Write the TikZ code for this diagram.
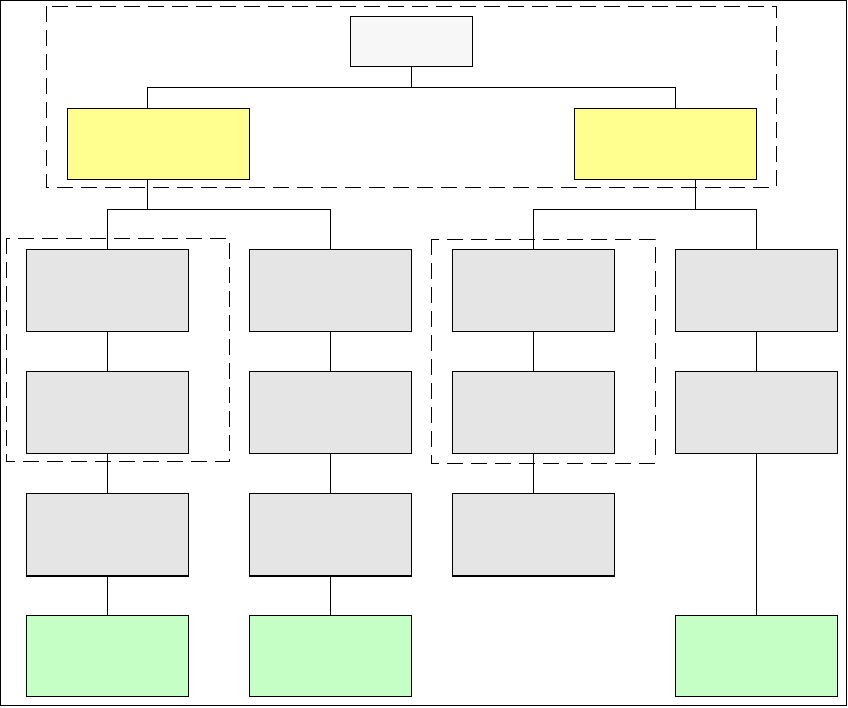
\documentclass[tikz,border=0pt]{standalone}
\begin{document}
\begin{tikzpicture}[x=1pt,y=-1pt,line width=1pt,
  box/.style={draw=black,rectangle,inner sep=0pt,minimum width=162pt,minimum height=82pt},
  greybox/.style={box,fill=boxgrey},
  greenbox/.style={box,fill=boxgreen,minimum height=81pt},
  yellowbox/.style={box,fill=boxyellow,minimum width=182pt,minimum height=71pt},
  topbox/.style={box,fill=topgrey,minimum width=122pt,minimum height=50pt},
  group/.style={draw=black,dash pattern=on 16pt off 8pt},
  conn/.style={draw=black}]
\definecolor{boxgrey}{HTML}{E5E5E5}
\definecolor{boxgreen}{HTML}{C6FFC6}
\definecolor{boxyellow}{HTML}{FFFF90}
\definecolor{topgrey}{HTML}{F7F7F7}
\useasboundingbox (0,0) rectangle (848,707);
\draw (0.5,0.5) rectangle (846.8,705.5);
% groups
\draw[group] (46,6) rectangle (776,187);
\draw[group] (6,238) rectangle (229,461);
\draw[group] (431,239) rectangle (655,463);
% nodes
\node[topbox] (t) at (411,41) {};
\node[yellowbox] (yl) at (158,143.5) {};
\node[yellowbox] (yr) at (665,143.5) {};
\foreach \c/\x in {1/107,2/330,3/533,4/756}{
  \node[greybox] (a\c) at (\x,290) {};
  \node[greybox] (b\c) at (\x,412) {};
}
\foreach \c/\x in {1/107,2/330,3/533}{
  \node[greybox] (c\c) at (\x,534) {};
  \draw[line width=2pt] (c\c.south west) -- (c\c.south east);
}
\node[greenbox] (g1) at (107,655.5) {};
\node[greenbox] (g2) at (330,655.5) {};
\node[greenbox] (g4) at (756,655.5) {};
% junction coordinates
\coordinate (jT) at (411,87);
\coordinate (jTL) at (147,87);
\coordinate (jTR) at (675,87);
\coordinate (jLd) at (147,180);
\coordinate (jL) at (147,209);
\coordinate (jL1) at (107,209);
\coordinate (jL2) at (330,209);
\coordinate (jRd) at (695,180);
\coordinate (jR) at (695,209);
\coordinate (jR1) at (533,209);
\coordinate (jR2) at (756,209);
% connectors
\draw[conn] (t.south) -- (jT);
\draw[conn] (jTL |- yl.north) -- (jTL) -- (jTR) -- (jTR |- yr.north);
\draw[conn] (jLd) -- (jL);
\draw[conn] (a1.north) -- (jL1) -- (jL2) -- (a2.north);
\draw[conn] (jRd) -- (jR);
\draw[conn] (a3.north) -- (jR1) -- (jR2) -- (a4.north);
\foreach \c in {1,2,3,4}{
  \draw[conn] (a\c) -- (b\c);
}
\foreach \c in {1,2,3}{
  \draw[conn] (b\c) -- (c\c);
}
\draw[conn] (c1) -- (g1);
\draw[conn] (c2) -- (g2);
\draw[conn] (b4) -- (g4);
\end{tikzpicture}
\end{document}
